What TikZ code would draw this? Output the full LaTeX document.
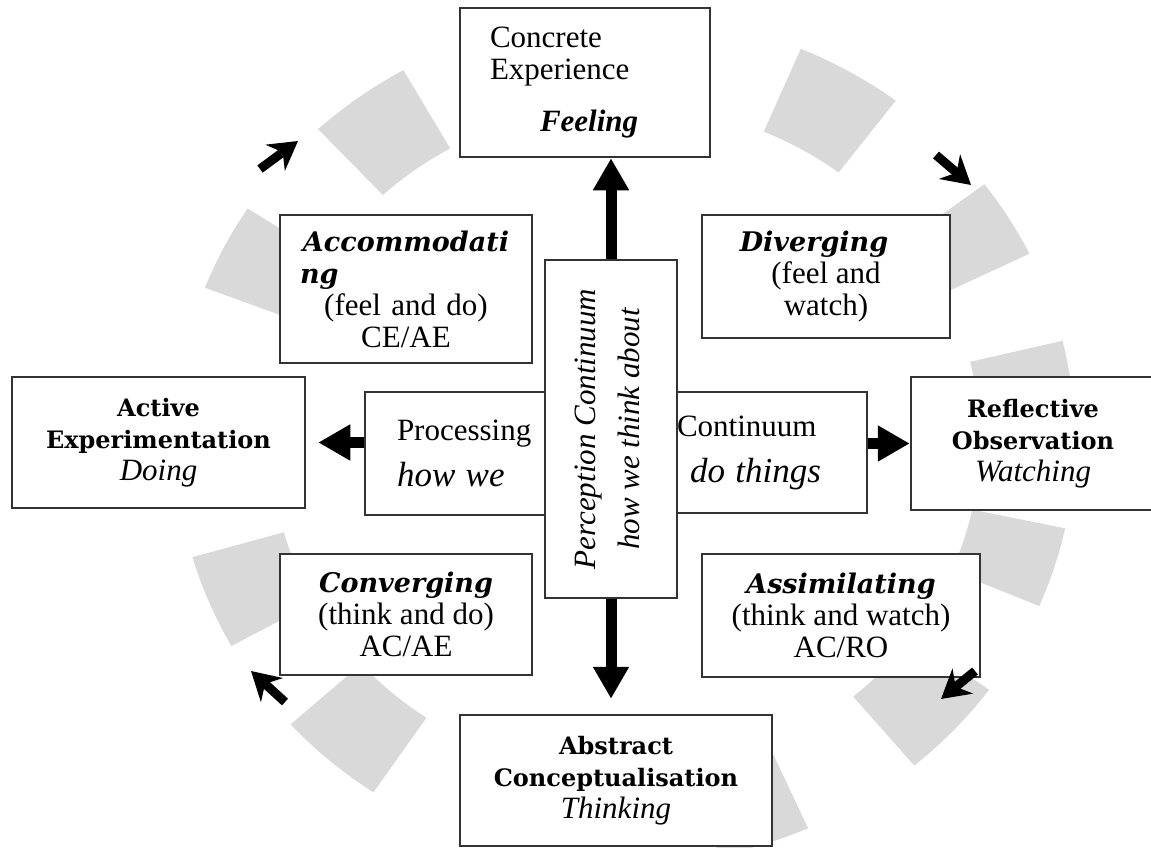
\documentclass[tikz,border=0pt]{standalone}
\usepackage{fontspec}
\usepackage{graphicx}
\setmainfont{Liberation Serif}
\newfontfamily\slabfont{DejaVu Serif}
\usetikzlibrary{arrows.meta,positioning,calc}

\newcommand{\headfont}{\slabfont\bfseries\itshape\fontsize{27}{32}\selectfont}
\newcommand{\poolfont}{\slabfont\bfseries\fontsize{24}{32}\selectfont}
\newcommand{\bigit}{\itshape\fontsize{35}{35}\selectfont}

\begin{document}
\begin{tikzpicture}[x=1pt, y=-1pt,
  box/.style={draw=black!80, line width=2.5pt, fill=white, inner sep=0pt, align=center,
    font=\fontsize{31}{32}\selectfont},
  segfill/.style={fill=black!15},
  bigarrow/.style={line width=11pt, -{Triangle[width=34pt,length=32pt]}},
  cyclearrow/.style={line width=9pt, -{Stealth[length=28pt,width=32pt,inset=9pt]}}]
\useasboundingbox (0,0) rectangle (1151,848);
% grey ring pieces round the centre
\foreach \a/\b in {119.5/133,147/159,196/209,222/236,53/67,26/37,1/13.5,-23/-12,-50/-36,-78/-66}
  \fill[segfill] plot[domain=\a:\b, samples=10] ({625+450*cos(\x)},{440-425*sin(\x)})
    -- plot[domain=\b:\a, samples=10] ({625+355*cos(\x)},{440-335*sin(\x)}) -- cycle;
% four poles of the cycle
\node[box, minimum width=250pt, minimum height=149pt, text width=190pt, align=left] (ce) at (585,82.5)
  {Concrete\\Experience\\[20pt]\hspace*{50pt}\textbf{\textit{Feeling}}};
\node[box, minimum width=293pt, minimum height=131pt] (ae) at (158.5,442.5)
  {{\poolfont Active}\\{\poolfont Experimentation}\\\textit{Doing}};
\node[box, minimum width=244pt, minimum height=133pt] (ro) at (1033,443.5)
  {{\poolfont Reflective}\\{\poolfont Observation}\\\textit{Watching}};
\node[box, minimum width=312pt, minimum height=131pt] (ac) at (616,780.5)
  {{\poolfont Abstract}\\{\poolfont Conceptualisation}\\\textit{Thinking}};
% learning styles
\node[box, minimum width=252pt, minimum height=148pt, text width=212pt] (acc) at (406,289)
  {{\headfont Accommodati}\\{\headfont ng}\hfill\null\\(feel and do)\\CE/AE};
\node[box, minimum width=248pt, minimum height=123pt] (div) at (826,276.5)
  {{\headfont Diverging}\hspace{24pt}\null\\(feel and\\watch)};
\node[box, minimum width=252pt, minimum height=121pt] (conv) at (406,614.5)
  {{\headfont Converging}\\(think and do)\\AC/AE};
\node[box, minimum width=278pt, minimum height=123pt] (ass) at (841,615.5)
  {{\headfont Assimilating}\\(think and watch)\\AC/RO};
% processing continuum
\node[box, minimum width=180pt, minimum height=123pt, text width=180pt, align=left] (proc) at (455,453.5)
  {\hspace*{32pt}Processing\\[14pt]\hspace*{32pt}{\bigit how we}};
\node[box, minimum width=190pt, minimum height=121pt, text width=190pt, align=left] (cont) at (772,452.5)
  {Continuum\\[14pt]\hspace*{13pt}{\bigit do things}};
% perception continuum
\node[box, minimum width=132pt, minimum height=338pt] (per) at (611,429)
  {\rotatebox{90}{\itshape\fontsize{31}{32}\selectfont\begin{tabular}{@{}c@{}}Perception Continuum\\[12pt]how we think about\end{tabular}}};
% axis arrows
\draw[bigarrow] (per.north) -- (per.north |- ce.south);
\draw[bigarrow, shorten >=15pt] (per.south) -- (per.south |- ac.north);
\draw[bigarrow, shorten >=12pt] (ae.east -| proc.west) -- (ae.east);
\draw[bigarrow] (ro.west -| cont.east) -- (ro.west);
% clockwise arrows on the ring
\coordinate (t1) at (260,169); \coordinate (h1) at (298,141);
\coordinate (t2) at (936,155); \coordinate (h2) at (971,185);
\coordinate (t3) at (975,671); \coordinate (h3) at (941,699);
\coordinate (t4) at (285,702); \coordinate (h4) at (251,671);
\foreach \i in {1,...,4}
  \draw[cyclearrow] (t\i) -- (h\i);
\end{tikzpicture}
\end{document}
